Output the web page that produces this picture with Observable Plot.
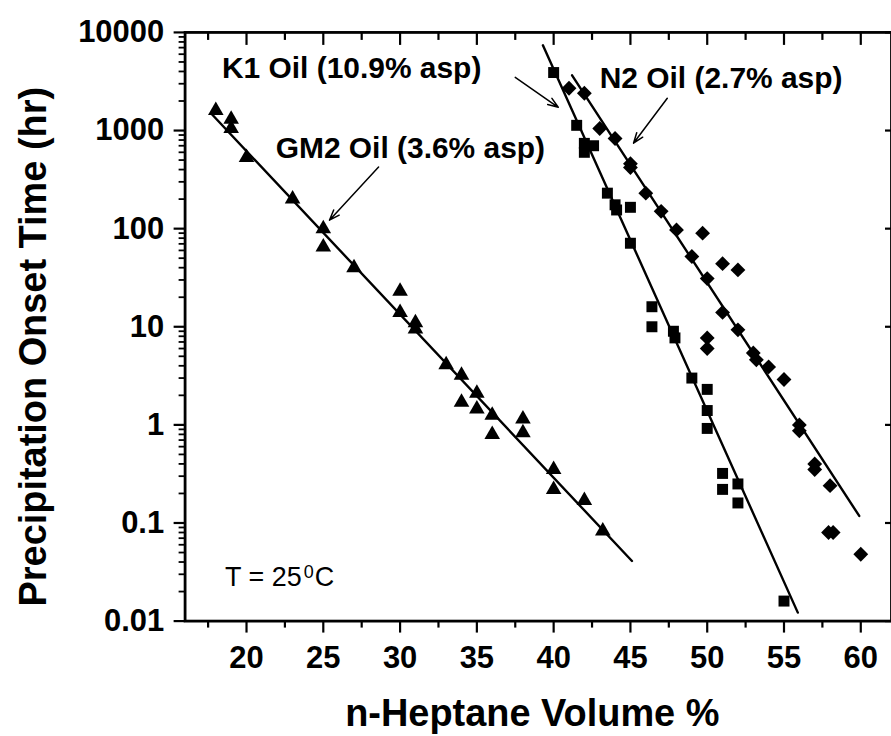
<!DOCTYPE html>
<html><head><meta charset="utf-8">
<script src="https://cdn.jsdelivr.net/npm/d3@7"></script>
<script src="https://cdn.jsdelivr.net/npm/@observablehq/plot@0.6"></script>
<style>html,body{margin:0;padding:0;background:#fff;overflow:hidden}#chart{width:891px;height:736px;overflow:hidden}</style>
</head><body><div id="chart"></div>
<script>
// ---- data ----
const gm2X = [18, 19, 19, 20, 23, 25, 25, 27, 30, 30, 31, 31, 33, 34, 35, 34, 35, 36, 36, 38, 38, 40, 40, 42, 43.2];
const gm2Y = [1600, 1300, 1050, 530, 200, 100, 65, 40, 23, 14, 11, 9.5, 4.1, 3.2, 2.1, 1.7, 1.45, 1.25, 0.8, 1.15, 0.83, 0.35, 0.22, 0.17, 0.083];

const k1X = [40, 41.5, 42, 42, 42.6, 43.5, 44, 44.1, 45, 45, 46.4, 46.4, 47.8, 47.9, 49, 50, 50, 50, 51, 51, 52, 52, 55];
const k1Y = [3900, 1130, 740, 600, 700, 230, 175, 155, 165, 71, 16, 10, 9, 7.7, 3.0, 2.3, 1.4, 0.92, 0.32, 0.22, 0.25, 0.16, 0.016];

const n2X = [41, 42, 43, 44, 45, 45, 46, 47, 48, 49.7, 49, 51, 52, 50, 50, 50, 51, 52, 53, 53.2, 54, 55, 56, 56, 57, 57, 58, 57.9, 58.2, 60];
const n2Y = [2700, 2400, 1050, 830, 460, 420, 230, 150, 97, 90, 52, 44, 38, 31, 7.7, 6.0, 14, 9.3, 5.4, 4.6, 3.9, 2.9, 1.0, 0.87, 0.4, 0.35, 0.24, 0.08, 0.08, 0.048];

// fitted lines (end points)
const gm2FitX = [17.7, 45.1], gm2FitY = [1490, 0.041];
const k1FitX = [39.3, 55.9], k1FitY = [7400, 0.0122];
const n2FitX = [41.2, 59.9], n2FitY = [3650, 0.118];

// ticks
const xMajor = [20, 25, 30, 35, 40, 45, 50, 55, 60];
const xMinor = [17.5, 22.5, 27.5, 32.5, 37.5, 42.5, 47.5, 52.5, 57.5];
const yMajor = [0.01, 0.1, 1, 10, 100, 1000, 10000];
const yMinor = [];
for (let e = -2; e < 4; e++) for (let m = 2; m <= 9; m++) yMinor.push(+(m * Math.pow(10, e)).toPrecision(3));

// labels
const labelText = ["K1 Oil (10.9% asp)", "GM2 Oil (3.6% asp)", "N2 Oil (2.7% asp)"];
const labelX = [18.4, 21.9, 43.0];
const labelY = [4300, 653, 3365];
const arrowX1 = [37.5, 28.6, 47.4], arrowY1 = [3480, 424, 2130];
const arrowX2 = [40.3, 25.4, 45.2], arrowY2 = [1726, 122, 743];
const tempX = 18.6, tempY = 0.028;
const xTitle = "n-Heptane Volume %";
const yTitle = "Precipitation Onset Time (hr)";

const pts = (X, Y) => X.map((x, i) => ({x, y: Y[i]}));
const gm2 = pts(gm2X, gm2Y), k1 = pts(k1X, k1Y), n2 = pts(n2X, n2Y);
const labels = labelText.map((t, i) => ({t, x: labelX[i], y: labelY[i]}));
const arrows = arrowX1.map((x, i) => ({x1: x, y1: arrowY1[i], x2: arrowX2[i], y2: arrowY2[i]}));

const F = "'Liberation Sans', Arial, Helvetica, sans-serif";
const blank = () => "";

const chart = Plot.plot({
  width: 893, height: 736,
  marginLeft: 185, marginRight: 0, marginTop: 32, marginBottom: 114,
  x: {domain: [16, 62]},
  y: {type: "log", domain: [0.01, 10000]},
  style: {fontFamily: F, background: "white", color: "black", overflow: "visible"},
  marks: [
    Plot.axisX({ticks: xMajor, tickSize: 12, tickPadding: 13, tickFormat: d => String(d), fontSize: 31, fontWeight: "bold", label: null, strokeWidth: 2.2}),
    Plot.axisX({ticks: xMinor, tickSize: 7, tickFormat: blank, label: null, strokeWidth: 2.2}),
    Plot.axisX({anchor: "top", ticks: xMajor, tickSize: -12, tickFormat: blank, label: null, strokeWidth: 2.2}),
    Plot.axisX({anchor: "top", ticks: xMinor, tickSize: -7, tickFormat: blank, label: null, strokeWidth: 2.2}),
    Plot.axisY({ticks: yMajor, tickSize: 11, tickPadding: 10, tickFormat: d => String(d), fontSize: 31, fontWeight: "bold", label: null, strokeWidth: 2.2}),
    Plot.axisY({ticks: yMinor, tickSize: 6, tickFormat: blank, label: null, strokeWidth: 1.8}),
    Plot.axisY({anchor: "right", ticks: yMajor, tickSize: -7, tickFormat: blank, label: null, strokeWidth: 2.2}),
    Plot.frame({stroke: "black", strokeWidth: 2.8}),
    Plot.line(pts(gm2FitX, gm2FitY), {x: "x", y: "y", stroke: "black", strokeWidth: 2.4}),
    Plot.line(pts(k1FitX, k1FitY), {x: "x", y: "y", stroke: "black", strokeWidth: 2.4}),
    Plot.line(pts(n2FitX, n2FitY), {x: "x", y: "y", stroke: "black", strokeWidth: 2.4}),
    Plot.dot(gm2, {x: "x", y: "y", symbol: "triangle", r: 5.8, fill: "black", stroke: "none"}),
    Plot.dot(k1, {x: "x", y: "y", symbol: "square", r: 6.2, fill: "black", stroke: "none"}),
    Plot.dot(n2, {x: "x", y: "y", symbol: "diamond2", r: 6.7, fill: "black", stroke: "none"}),
    Plot.arrow(arrows, {x1: "x1", y1: "y1", x2: "x2", y2: "y2", stroke: "black", strokeWidth: 1.5, headLength: 11, headAngle: 40}),
    Plot.text(labels, {x: "x", y: "y", text: "t", textAnchor: "start", fontSize: 30, fontWeight: "bold", fill: "black"}),
    Plot.text(["T = 25"], {x: () => tempX, y: () => tempY, text: d => d, textAnchor: "start", fontSize: 27, fill: "black"}),
    Plot.text(["0"], {x: () => tempX, y: () => tempY, text: d => d, textAnchor: "start", fontSize: 18, dx: 79, dy: -5, fill: "black"}),
    Plot.text(["C"], {x: () => tempX, y: () => tempY, text: d => d, textAnchor: "start", fontSize: 27, dx: 90, fill: "black"}),
    Plot.text([xTitle], {frameAnchor: "bottom", text: d => d, textAnchor: "middle", lineAnchor: "middle", dy: 93, dx: -6, fontSize: 38, fontWeight: "bold", fill: "black"}),
    Plot.text([yTitle], {frameAnchor: "left", text: d => d, textAnchor: "middle", lineAnchor: "middle", dx: -152, dy: 20, rotate: -90, fontSize: 38, fontWeight: "bold", fill: "black"})
  ]
});
document.getElementById("chart").appendChild(chart);
</script>
</body></html>
